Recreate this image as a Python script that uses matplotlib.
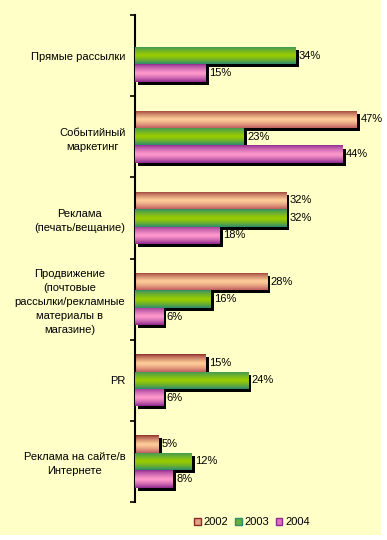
import numpy as np
import matplotlib
matplotlib.use("Agg")
import matplotlib.pyplot as plt
import matplotlib.patheffects as pe
from matplotlib.patches import Patch, Rectangle
from matplotlib.colors import to_rgb

plt.rcParams['font.family'] = ['Liberation Sans', 'DejaVu Sans']

categories = ["Прямые рассылки",
              "Событийный\nмаркетинг",
              "Реклама\n(печать/вещание)",
              "Продвижение\n(почтовые\nрассылки/рекламные\nматериалы в\nмагазине)",
              "PR",
              "Реклама на сайте/в\nИнтернете"]
years = ["2002", "2003", "2004"]
v2002 = [0, 47, 32, 28, 15, 5]
v2003 = [34, 23, 32, 16, 24, 12]
v2004 = [15, 44, 18, 6, 6, 8]
series = [v2002, v2003, v2004]

# gradient (top, middle, bottom) colours for each series
grad = [("#8B2A2A", "#FFCC99", "#C06060"),
        ("#2E8B6E", "#99CC00", "#2E8B6E"),
        ("#8E2A8E", "#FF99CC", "#8E2A8E")]
legend_col = ["#E8A080", "#66B040", "#E070C0"]

W, H = 387, 540
fig = plt.figure(figsize=(W/100, H/100), dpi=100, facecolor="white")
fig.patches.append(Rectangle((0, 5/H), 381/W, 1 - 5/H, transform=fig.transFigure,
                             facecolor="#FFFFC8", edgecolor="none", zorder=-10))

ax = fig.add_axes([135/W, 38/H, (371-135)/W, (525-38)/H])
ax.set_facecolor("none")

y = np.arange(len(categories))
h = 0.215

def gradient_img(c_top, c_mid, c_bot, n=40):
    t = np.linspace(0, 1, n)
    a, b, c = np.array(to_rgb(c_top)), np.array(to_rgb(c_mid)), np.array(to_rgb(c_bot))
    rows = []
    for tt in t:
        if tt < 0.5:
            s = (tt / 0.5) ** 0.7
            rows.append(a + (b - a) * s)
        else:
            s = ((tt - 0.5) / 0.5) ** 1.4
            rows.append(b + (c - b) * s)
    return np.array(rows)[:, None, :]

for i, vals in enumerate(series):
    offs = (i - 1) * h
    bars = ax.barh(y + offs, vals, height=h, color=grad[i][1], edgecolor="none",
                   zorder=2 + i)
    img = gradient_img(*grad[i])
    for b, v in zip(bars, vals):
        if v <= 0:
            b.set_visible(False)
            continue
        b.set_path_effects([pe.SimplePatchShadow(offset=(2.2, -2.2), shadow_rgbFace="black",
                                                 alpha=1.0), pe.Normal()])
        x0, y0 = b.get_x(), b.get_y()
        x1, y1 = x0 + b.get_width(), y0 + b.get_height()
        im = ax.imshow(img, extent=(x0, x1, y1, y0), aspect="auto", origin="upper",
                       zorder=2 + i + 0.5, interpolation="bilinear")
        im.set_clip_path(b)
        ax.annotate(f"{v}%", (x1, y0 + b.get_height() / 2), xytext=(2.5, 0),
                    textcoords="offset points", va="center", ha="left",
                    fontsize=8, zorder=10)

ax.set_xlim(0, 50)
ax.set_ylim(len(categories) - 0.5, -0.5)

for s in ["top", "right", "bottom"]:
    ax.spines[s].set_visible(False)
ax.spines["left"].set_linewidth(1.5)
ax.set_xticks([])
ax.set_yticks(y)
ax.set_yticklabels(categories, fontsize=8, multialignment="center", linespacing=1.5)
ax.tick_params(axis="y", which="major", length=0, pad=7)
ax.set_yticks(np.arange(-0.5, len(categories)), minor=True)
ax.tick_params(axis="y", which="minor", length=3.5, width=1.2, direction="out")

handles = [Patch(facecolor=legend_col[i], edgecolor=grad[i][0], linewidth=1.0) for i in range(3)]
fig.legend(handles, years, loc="center", bbox_to_anchor=(252/W, 18/H), ncol=3,
           frameon=False, fontsize=8, handlelength=0.6, handleheight=0.6,
           handletextpad=0.25, columnspacing=0.6, borderaxespad=0)

fig.savefig("out.png", dpi=100, facecolor="white")
